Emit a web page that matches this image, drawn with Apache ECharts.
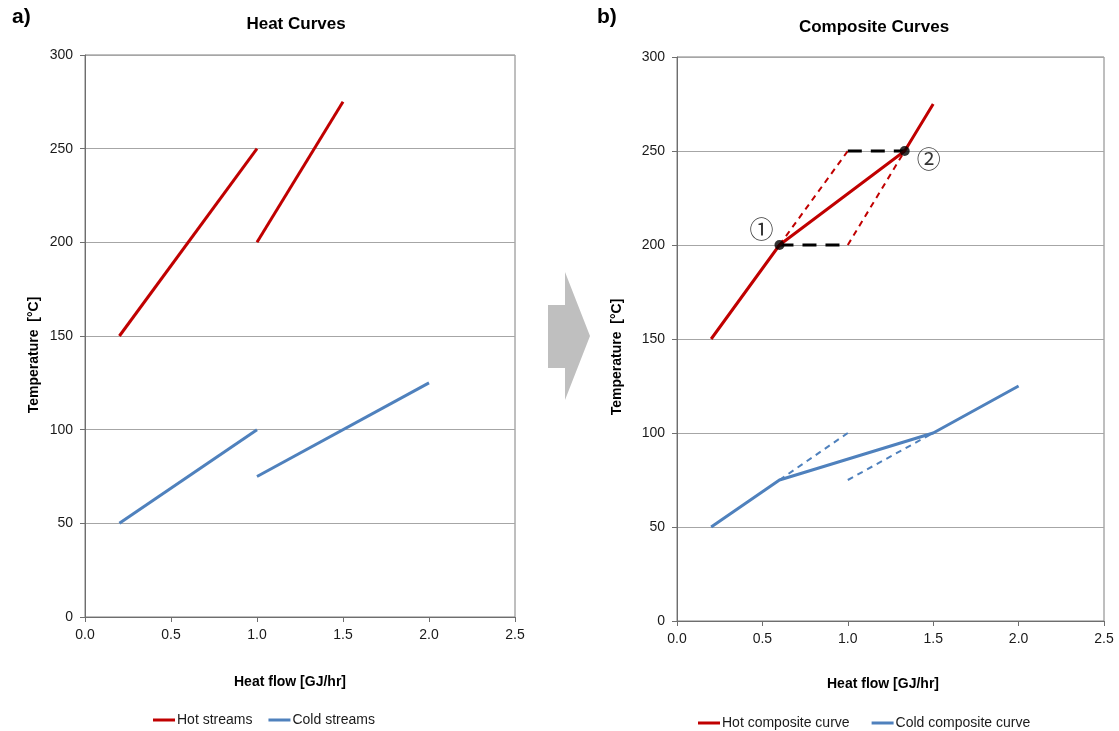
<!DOCTYPE html>
<html>
<head>
<meta charset="utf-8">
<script src="https://cdn.jsdelivr.net/npm/echarts@6/dist/echarts.min.js"></script>
<style>html,body{margin:0;padding:0;background:#fff}#c{width:1119px;height:731px}</style>
</head>
<body>
<div id="c"></div>
<script>
// ---- Data ----
const xTicks = [0, 0.5, 1.0, 1.5, 2.0, 2.5];
const yTicks = [0, 50, 100, 150, 200, 250, 300];
// Panel a) individual streams [heat flow, temperature]
const hotStream1 = [[0.2, 150], [1.0, 250]];
const hotStream2 = [[1.0, 200], [1.5, 275]];
const coldStream1 = [[0.2, 50], [1.0, 100]];
const coldStream2 = [[1.0, 75], [2.0, 125]];
// Panel b) composite curves
const hotComposite = [[0.2, 150], [0.6, 200], [1.333, 250], [1.5, 275]];
const coldComposite = [[0.2, 50], [0.6, 75], [1.5, 100], [2.0, 125]];
const hotDashA = [[0.6, 200], [1.0, 250]];
const hotDashB = [[1.0, 200], [1.333, 250]];
const blackDashTop = [[1.0, 250], [1.333, 250]];
const blackDashBottom = [[0.6, 200], [1.0, 200]];
const coldDashA = [[0.6, 75], [1.0, 100]];
const coldDashB = [[1.0, 75], [1.5, 100]];
const keyPoints = [[0.6, 200], [1.333, 250]];
const keyLabels = ['①', '②'];

const HOT = '#C00000', COLD = '#4F81BD';
const FONT = 'Liberation Sans, Arial, sans-serif';

function xAx(gi) {
  return {
    gridIndex: gi, type: 'value', min: 0, max: 2.5, interval: 0.5,
    axisLine: {show: true, lineStyle: {color: '#6E6E6E', width: 1}},
    axisTick: {show: true, length: 5, lineStyle: {color: '#6E6E6E'}},
    splitLine: {show: false},
    axisLabel: {color: '#1a1a1a', fontSize: 14, fontFamily: FONT, margin: 11,
      formatter: v => v.toFixed(1)}
  };
}
function yAx(gi) {
  return {
    gridIndex: gi, type: 'value', min: 0, max: 300, interval: 50,
    axisLine: {show: true, lineStyle: {color: '#6E6E6E', width: 1}},
    axisTick: {show: true, length: 5, lineStyle: {color: '#6E6E6E'}},
    splitLine: {show: true, lineStyle: {color: '#A6A6A6', width: 1}},
    axisLabel: {color: '#1a1a1a', fontSize: 14, fontFamily: FONT, margin: 12}
  };
}
function line(name, data, color, width, type, xi, z) {
  return {
    name, type: 'line', data, xAxisIndex: xi, yAxisIndex: xi,
    showSymbol: false, symbol: 'none', animation: false, z: z || 2,
    lineStyle: {color, width, type: type || 'solid', cap: 'butt'},
    itemStyle: {color}
  };
}

const chart = echarts.init(document.getElementById('c'), null, {renderer: 'canvas'});
chart.setOption({
  animation: false,
  grid: [
    {left: 85, top: 55, width: 430, height: 562, show: true, borderColor: '#7F7F7F', borderWidth: 1, backgroundColor: '#fff'},
    {left: 677, top: 57, width: 427, height: 564, show: true, borderColor: '#7F7F7F', borderWidth: 1, backgroundColor: '#fff'}
  ],
  xAxis: [xAx(0), xAx(1)],
  yAxis: [yAx(0), yAx(1)],
  legend: [
    {data: ['Hot streams', 'Cold streams'], left: 148, top: 708, icon: 'rect', itemWidth: 22, itemHeight: 3,
     itemGap: 16, textStyle: {fontSize: 14, fontFamily: FONT, color: '#1a1a1a', padding: [0,0,0,-3]}},
    {data: ['Hot composite curve', 'Cold composite curve'], left: 693, top: 711, icon: 'rect', itemWidth: 22, itemHeight: 3,
     itemGap: 22, textStyle: {fontSize: 14, fontFamily: FONT, color: '#1a1a1a', padding: [0,0,0,-3]}}
  ],
  series: [
    line('Hot streams', hotStream1, HOT, 3, 'solid', 0),
    line('Hot streams', hotStream2, HOT, 3, 'solid', 0),
    line('Cold streams', coldStream1, COLD, 3, 'solid', 0),
    line('Cold streams', coldStream2, COLD, 3, 'solid', 0),
    line('hotDashA', hotDashA, HOT, 2, [6, 5], 1),
    line('hotDashB', hotDashB, HOT, 2, [6, 5], 1),
    line('blackDashTop', blackDashTop, '#000', 3, [14, 9], 1),
    line('blackDashBottom', blackDashBottom, '#000', 3, [14, 9], 1),
    line('coldDashA', coldDashA, COLD, 2, [6, 5], 1),
    line('coldDashB', coldDashB, COLD, 2, [6, 5], 1),
    line('Hot composite curve', hotComposite, HOT, 3, 'solid', 1, 3),
    line('Cold composite curve', coldComposite, COLD, 3, 'solid', 1, 3),
    {
      name: 'points', type: 'scatter', xAxisIndex: 1, yAxisIndex: 1, z: 5,
      symbolSize: 10, itemStyle: {color: '#000'}, animation: false,
      data: keyPoints.map((p, i) => ({
        value: p,
        label: {show: true, formatter: keyLabels[i], fontSize: 24, color: '#000',
          fontFamily: 'Noto Sans CJK JP, DejaVu Sans',
          position: i === 0 ? 'left' : 'right',
          offset: i === 0 ? [4, -16] : [2, 8]}
      }))
    }
  ],
  graphic: [
    {type: 'text', left: 12, top: 7, style: {text: 'a)', font: 'bold 21px ' + FONT, fill: '#000'}},
    {type: 'text', left: 597, top: 7, style: {text: 'b)', font: 'bold 21px ' + FONT, fill: '#000'}},
    {type: 'text', x: 296, y: 24, style: {text: 'Heat Curves', font: 'bold 17px ' + FONT, fill: '#000', align: 'center', verticalAlign: 'middle'}},
    {type: 'text', x: 874, y: 27, style: {text: 'Composite Curves', font: 'bold 17px ' + FONT, fill: '#000', align: 'center', verticalAlign: 'middle'}},
    {type: 'text', x: 290, y: 682, style: {text: 'Heat flow [GJ/hr]', font: 'bold 14px ' + FONT, fill: '#000', align: 'center', verticalAlign: 'middle'}},
    {type: 'text', x: 883, y: 684, style: {text: 'Heat flow [GJ/hr]', font: 'bold 14px ' + FONT, fill: '#000', align: 'center', verticalAlign: 'middle'}},
    {type: 'text', x: 34, y: 355, rotation: Math.PI / 2, style: {text: 'Temperature  [°C]', font: 'bold 14px ' + FONT, fill: '#000', align: 'center', verticalAlign: 'middle'}},
    {type: 'text', x: 617, y: 357, rotation: Math.PI / 2, style: {text: 'Temperature  [°C]', font: 'bold 14px ' + FONT, fill: '#000', align: 'center', verticalAlign: 'middle'}},
    {type: 'polygon', shape: {points: [[548, 305], [565, 305], [565, 272], [590, 336], [565, 400], [565, 368], [548, 368]]},
     style: {fill: '#BFBFBF'}}
  ]
});
</script>
</body>
</html>
